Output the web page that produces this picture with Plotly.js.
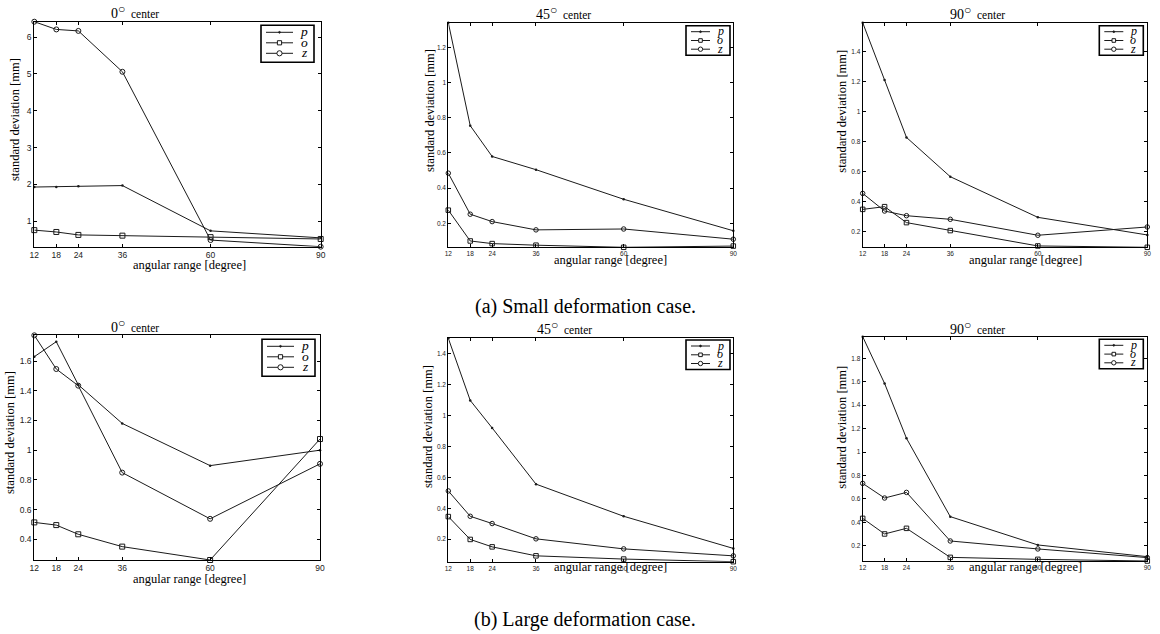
<!DOCTYPE html>
<html>
<head>
<meta charset="utf-8">
<script src="https://cdn.plot.ly/plotly-3.0.1.min.js"></script>
<style>html,body{margin:0;padding:0;background:#fff;}#chart{width:1160px;height:634px;}</style>
</head>
<body>
<div id="chart"></div>
<script>
// ---------------- data ----------------
const angles = [12, 18, 24, 36, 60, 90];
const xTicks = [12, 18, 24, 36, 60, 90];
const seriesNames = ['p', 'o', 'z'];

// (a) small deformation case
const small0_p  = [1.93, 1.93, 1.95, 1.97, 0.74, 0.55];
const small0_o  = [0.76, 0.71, 0.63, 0.61, 0.57, 0.52];
const small0_z  = [6.42, 6.21, 6.17, 5.06, 0.49, 0.31];
const small45_p = [1.34, 0.755, 0.58, 0.505, 0.337, 0.158];
const small45_o = [0.275, 0.10, 0.085, 0.076, 0.064, 0.071];
const small45_z = [0.485, 0.252, 0.21, 0.163, 0.168, 0.11];
const small90_p = [1.59, 1.21, 0.828, 0.567, 0.297, 0.18];
const small90_o = [0.35, 0.368, 0.262, 0.209, 0.107, 0.098];
const small90_z = [0.456, 0.339, 0.308, 0.284, 0.178, 0.233];

// (b) large deformation case
const large0_p  = [1.629, 1.73, 1.44, 1.18, 0.896, 1.0];
const large0_o  = [0.514, 0.496, 0.434, 0.351, 0.261, 1.075];
const large0_z  = [1.773, 1.546, 1.434, 0.849, 0.538, 0.908];
const large45_p = [1.50, 1.098, 0.92, 0.556, 0.348, 0.14];
const large45_o = [0.346, 0.198, 0.15, 0.092, 0.071, 0.054];
const large45_z = [0.512, 0.348, 0.301, 0.202, 0.137, 0.092];
const large90_p = [1.985, 1.586, 1.117, 0.448, 0.206, 0.106];
const large90_o = [0.433, 0.30, 0.348, 0.10, 0.083, 0.069];
const large90_z = [0.732, 0.607, 0.655, 0.24, 0.172, 0.098];

// y tick values
const yTicks_s0  = [1, 2, 3, 4, 5, 6];
const yTicks_s45 = [0.2, 0.4, 0.6, 0.8, 1, 1.2];
const yTicks_s90 = [0.2, 0.4, 0.6, 0.8, 1, 1.2, 1.4];
const yTicks_l0  = [0.4, 0.6, 0.8, 1, 1.2, 1.4, 1.6];
const yTicks_l45 = [0.2, 0.4, 0.6, 0.8, 1, 1.2, 1.4];
const yTicks_l90 = [0.2, 0.4, 0.6, 0.8, 1, 1.2, 1.4, 1.6, 1.8];

const centers = ['0', '45', '90', '0', '45', '90'];
const xLabel = 'angular range [degree]';
const yLabel = 'standard deviation [mm]';
const captions = ['(a) Small deformation case.', '(b) Large deformation case.'];

// ---------------- layout helpers ----------------
const W = 1160, H = 634;
const fx = v => v / W;
const fy = v => 1 - v / H;

const bigLeg = {w: 53, h: 37, rows: [7, 17.5, 28], lx: [5, 32], mx: 18.5, tx: 43, fs: 13.5, sq: 3.6, cr: 2.6};
const smallLeg = {w: 44, h: 29.5, rows: [6, 14.8, 23.5], lx: [5, 24], mx: 14.5, tx: 34, fs: 12, sq: 3.0, cr: 2.2};

const panels = [
  {data: [small0_p, small0_o, small0_z],   yt: yTicks_s0,  box: [34.3, 21.7, 320.7, 246.7], tick: 8.5, ms: 5,   title: [135, 11],  xl: [189.5, 265], yl: [15, 120],   leg: [314, 25.3],   lg: bigLeg},
  {data: [small45_p, small45_o, small45_z], yt: yTicks_s45, box: [448.3, 22.7, 733.3, 247.3], tick: 6.5, ms: 4.5, title: [563, 13],  xl: [610, 260],   yl: [430, 111],  leg: [730, 25.7],   lg: smallLeg},
  {data: [small90_p, small90_o, small90_z], yt: yTicks_s90, box: [862.7, 22.7, 1147.3, 247.3], tick: 6.5, ms: 4.5, title: [977, 13], xl: [1025, 260],  yl: [841.7, 111], leg: [1143.3, 25.7], lg: smallLeg},
  {data: [large0_p, large0_o, large0_z],   yt: yTicks_l0,  box: [34.3, 335.3, 320, 560],    tick: 8.5, ms: 5,   title: [135, 325], xl: [189.5, 579], yl: [10, 433],   leg: [315, 339.3],  lg: bigLeg},
  {data: [large45_p, large45_o, large45_z], yt: yTicks_l45, box: [448.3, 338.3, 733.3, 561.7], tick: 6.5, ms: 4.5, title: [564, 327], xl: [610, 567],   yl: [428, 427],  leg: [730, 340],    lg: smallLeg},
  {data: [large90_p, large90_o, large90_z], yt: yTicks_l90, box: [862.7, 336.7, 1147.3, 561], tick: 6.5, ms: 4.5, title: [977, 327], xl: [1025, 567], yl: [841.7, 427], leg: [1143.3, 339.3], lg: smallLeg}
];

const symbols = ['circle', 'square-open', 'circle-open'];
const lineColor = '#1a1a1a';
const serif = 'Liberation Serif, Times New Roman, serif';

const traces = [];
const layout = {
  width: W, height: H,
  margin: {l: 0, r: 0, t: 0, b: 0, pad: 0},
  paper_bgcolor: '#ffffff',
  plot_bgcolor: '#ffffff',
  showlegend: false,
  annotations: [],
  shapes: [],
  font: {family: 'Liberation Sans', color: '#000'}
};

function pshape(o) {
  return Object.assign({xref: 'paper', yref: 'paper', layer: 'above'}, o);
}

panels.forEach((pn, i) => {
  const n = i + 1;
  const xa = n === 1 ? 'x' : 'x' + n;
  const ya = n === 1 ? 'y' : 'y' + n;
  const all = pn.data.flat();
  const ymin = Math.min(...all), ymax = Math.max(...all);

  pn.data.forEach((vals, k) => {
    traces.push({
      type: 'scatter', mode: 'lines+markers',
      x: angles, y: vals,
      xaxis: xa, yaxis: ya,
      name: seriesNames[k],
      cliponaxis: false,
      line: {color: lineColor, width: 1},
      marker: k === 0
        ? {symbol: 'circle', size: 2.5, color: lineColor}
        : {symbol: symbols[k], size: pn.ms, color: lineColor, line: {color: lineColor, width: 1}}
    });
  });

  const [x0, y0, x1, y1] = pn.box;
  const axCommon = {
    showline: true, mirror: 'ticks', linecolor: '#000', linewidth: 1,
    ticks: 'inside', ticklen: 3, tickwidth: 1, tickcolor: '#000',
    showgrid: false, zeroline: false, fixedrange: true,
    tickfont: {family: 'Liberation Sans, Arial, sans-serif', size: pn.tick, color: '#222'}
  };
  layout['xaxis' + (n === 1 ? '' : n)] = Object.assign({}, axCommon, {
    domain: [fx(x0), fx(x1)], anchor: ya,
    range: [angles[0], angles[angles.length - 1]],
    tickmode: 'array', tickvals: xTicks, ticktext: xTicks.map(String)
  });
  layout['yaxis' + (n === 1 ? '' : n)] = Object.assign({}, axCommon, {
    domain: [fy(y1), fy(y0)], anchor: xa,
    range: [ymin, ymax],
    tickmode: 'array', tickvals: pn.yt, ticktext: pn.yt.map(String)
  });

  // ---- legend box (drawn in paper space) ----
  const lg = pn.lg;
  const R = pn.leg[0], T = pn.leg[1], L = R - lg.w, B = T + lg.h;
  layout.shapes.push(pshape({type: 'rect', x0: fx(L), x1: fx(R), y0: fy(B), y1: fy(T),
    line: {color: '#000', width: 1.6}, fillcolor: '#ffffff'}));
  seriesNames.forEach((nm, k) => {
    const yy = T + lg.rows[k];
    layout.shapes.push(pshape({type: 'line', x0: fx(L + lg.lx[0]), x1: fx(L + lg.lx[1]), y0: fy(yy), y1: fy(yy),
      line: {color: lineColor, width: 1}}));
    const mx = L + lg.mx;
    if (k === 0) {
      layout.shapes.push(pshape({type: 'circle', x0: fx(mx - 0.9), x1: fx(mx + 0.9), y0: fy(yy + 0.9), y1: fy(yy - 0.9),
        line: {color: lineColor, width: 0.8}, fillcolor: lineColor}));
    } else if (k === 1) {
      layout.shapes.push(pshape({type: 'rect', x0: fx(mx - lg.sq / 2 - 0.3), x1: fx(mx + lg.sq / 2 + 0.3), y0: fy(yy + lg.sq / 2 + 0.3), y1: fy(yy - lg.sq / 2 - 0.3),
        line: {color: lineColor, width: 1}, fillcolor: '#ffffff'}));
    } else {
      layout.shapes.push(pshape({type: 'circle', x0: fx(mx - lg.cr), x1: fx(mx + lg.cr), y0: fy(yy + lg.cr), y1: fy(yy - lg.cr),
        line: {color: lineColor, width: 1}, fillcolor: '#ffffff'}));
    }
    layout.annotations.push({
      xref: 'paper', yref: 'paper', x: fx(L + lg.tx), y: fy(yy - 0.5),
      xanchor: 'center', yanchor: 'middle', showarrow: false,
      text: '<i>' + nm + '</i>', font: {family: serif, size: lg.fs, color: '#000'}
    });
  });

  // panel title
  layout.annotations.push({
    xref: 'paper', yref: 'paper', x: fx(pn.title[0]), y: fy(pn.title[1]),
    xanchor: 'center', yanchor: 'middle', showarrow: false,
    text: '<span style="font-size:14px">' + centers[i] + '</span><sup><span style="font-size:12px">○</span></sup>  center',
    font: {family: serif, size: 11.5, color: '#000'}
  });
  // x label
  layout.annotations.push({
    xref: 'paper', yref: 'paper', x: fx(pn.xl[0]), y: fy(pn.xl[1]),
    xanchor: 'center', yanchor: 'middle', showarrow: false,
    text: xLabel, font: {family: serif, size: 12.5, color: '#000'}
  });
  // y label
  layout.annotations.push({
    xref: 'paper', yref: 'paper', x: fx(pn.yl[0]), y: fy(pn.yl[1]),
    xanchor: 'center', yanchor: 'middle', showarrow: false, textangle: -90,
    text: yLabel, font: {family: serif, size: 12.5, color: '#000'}
  });
});

// captions
layout.annotations.push({
  xref: 'paper', yref: 'paper', x: fx(585), y: fy(306),
  xanchor: 'center', yanchor: 'middle', showarrow: false,
  text: captions[0], font: {family: serif, size: 20, color: '#000'}
});
layout.annotations.push({
  xref: 'paper', yref: 'paper', x: fx(585), y: fy(619),
  xanchor: 'center', yanchor: 'middle', showarrow: false,
  text: captions[1], font: {family: serif, size: 20, color: '#000'}
});

Plotly.newPlot('chart', traces, layout, {staticPlot: true, displayModeBar: false});
</script>
</body>
</html>
